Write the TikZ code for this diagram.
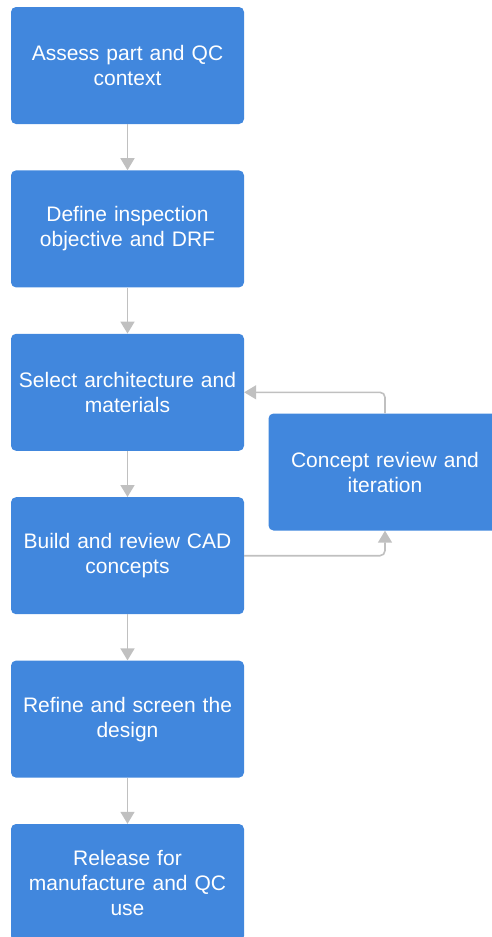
\documentclass[tikz,border=0pt]{standalone}
\usepackage{fontspec}
\setmainfont{Liberation Sans}
\usetikzlibrary{positioning,arrows.meta}
\definecolor{boxblue}{HTML}{4187DD}
\definecolor{arrowgray}{HTML}{C0C0C0}
\begin{document}
\begin{tikzpicture}[x=1pt, y=1pt, node distance=46pt,
  step node/.style={rectangle, rounded corners=5pt, fill=boxblue, minimum width=233pt, minimum height=117pt, text width=231pt, align=center, inner sep=0pt, text=white, font=\fontsize{21}{25}\selectfont},
  flow/.style={draw=arrowgray, line width=1.6pt, -{Triangle[width=14pt,length=12pt]}}]
\useasboundingbox (0,0) rectangle (491,-937);
\node [step node] (assess) at (127.5,-65.5) {Assess part and QC\\context};
\node [step node, below=of assess] (define) {Define inspection\\objective and DRF};
\node [step node, below=of define] (select) {Select architecture and\\materials};
\node [step node, below=of select] (build) {Build and review CAD\\concepts};
\node [step node, below=of build] (refine) {Refine and screen the\\design};
\node [step node, below=of refine] (release) {Release for\\manufacture and QC\\use};
\node [step node] (review) at (385,-472) {Concept review and\\iteration};
\draw [flow] (assess) -- (define);
\draw [flow] (define) -- (select);
\draw [flow] (select) -- (build);
\draw [flow] (build) -- (refine);
\draw [flow] (refine) -- (release);
\draw [flow, rounded corners=5pt] (build.east) -| (review.south);
\draw [flow, rounded corners=5pt] (review.north) |- (select.east);
\end{tikzpicture}
\end{document}
